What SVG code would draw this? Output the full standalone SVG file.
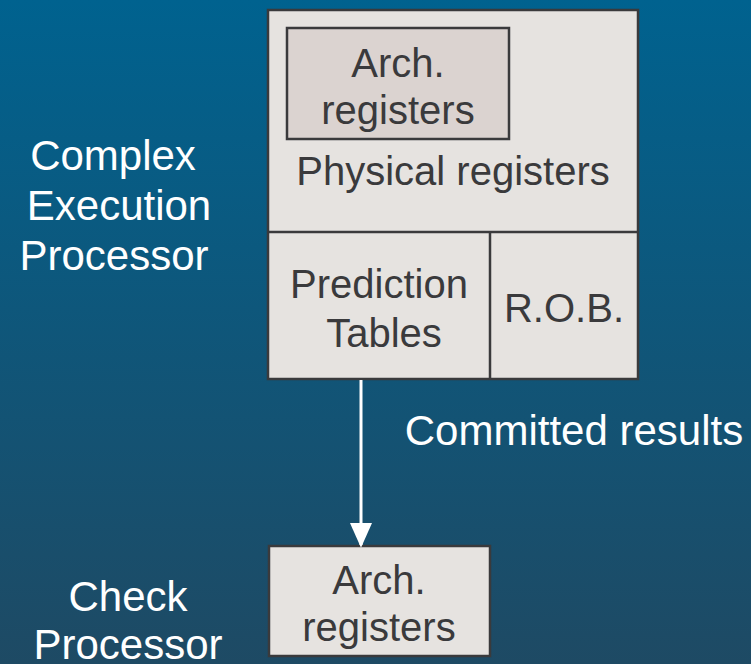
<svg xmlns="http://www.w3.org/2000/svg" width="751" height="664" viewBox="0 0 751 664">
<defs>
<linearGradient id="bg" x1="0" y1="0" x2="0" y2="1">
<stop offset="0" stop-color="#00628f"/>
<stop offset="1" stop-color="#1e4a64"/>
</linearGradient>
<marker id="arrow" markerWidth="25" markerHeight="28" refX="25" refY="12.5" orient="auto" markerUnits="userSpaceOnUse" viewBox="0 0 28 25">
<path d="M0,0 L28,12.5 L0,25 Z" fill="#ffffff"/>
</marker>
<style>
.box{fill:#e6e3e0;stroke:#3a3a3c;stroke-width:2.5}
.inner{fill:#dbd3d0;stroke:#3a3a3c;stroke-width:2.5}
.div{stroke:#3a3a3c;stroke-width:2.5;fill:none}
.t{font-family:"Liberation Sans",Arial,sans-serif;font-size:40px;fill:#3a3a3c;text-anchor:middle}
.lbl{font-family:"Liberation Sans",Arial,sans-serif;font-size:42px;fill:#ffffff;text-anchor:middle}
</style>
</defs>
<rect width="751" height="664" fill="url(#bg)"/>
<g id="complex-processor">
<rect class="box" x="268" y="10" width="370" height="369"/>
<line class="div" x1="268" y1="232" x2="638" y2="232"/>
<line class="div" x1="490" y1="232" x2="490" y2="379"/>
<text class="t" x="453" y="185">Physical registers</text>
</g>
<g id="arch-registers-inner">
<rect class="inner" x="287" y="28" width="222" height="111"/>
<text class="t" x="398" y="77">Arch.</text>
<text class="t" x="398" y="124">registers</text>
</g>
<g id="prediction-tables">
<text class="t" x="379" y="298">Prediction</text>
<text class="t" x="384" y="347">Tables</text>
</g>
<g id="rob">
<text class="t" x="564" y="322">R.O.B.</text>
</g>
<g id="check-arch-registers">
<rect class="box" x="269" y="546" width="221" height="110"/>
<text class="t" x="379" y="594">Arch.</text>
<text class="t" x="379" y="641">registers</text>
</g>
<g id="label-complex">
<text class="lbl" x="113" y="170">Complex</text>
<text class="lbl" x="119" y="220">Execution</text>
<text class="lbl" x="114" y="270">Processor</text>
</g>
<g id="label-check">
<text class="lbl" x="128" y="611">Check</text>
<text class="lbl" x="128" y="659">Processor</text>
</g>
<g id="connectors">
<line x1="361" y1="380" x2="361" y2="545" stroke="#ffffff" stroke-width="3" marker-end="url(#arrow)"/>
<text class="lbl" x="574" y="445">Committed results</text>
</g>
</svg>
